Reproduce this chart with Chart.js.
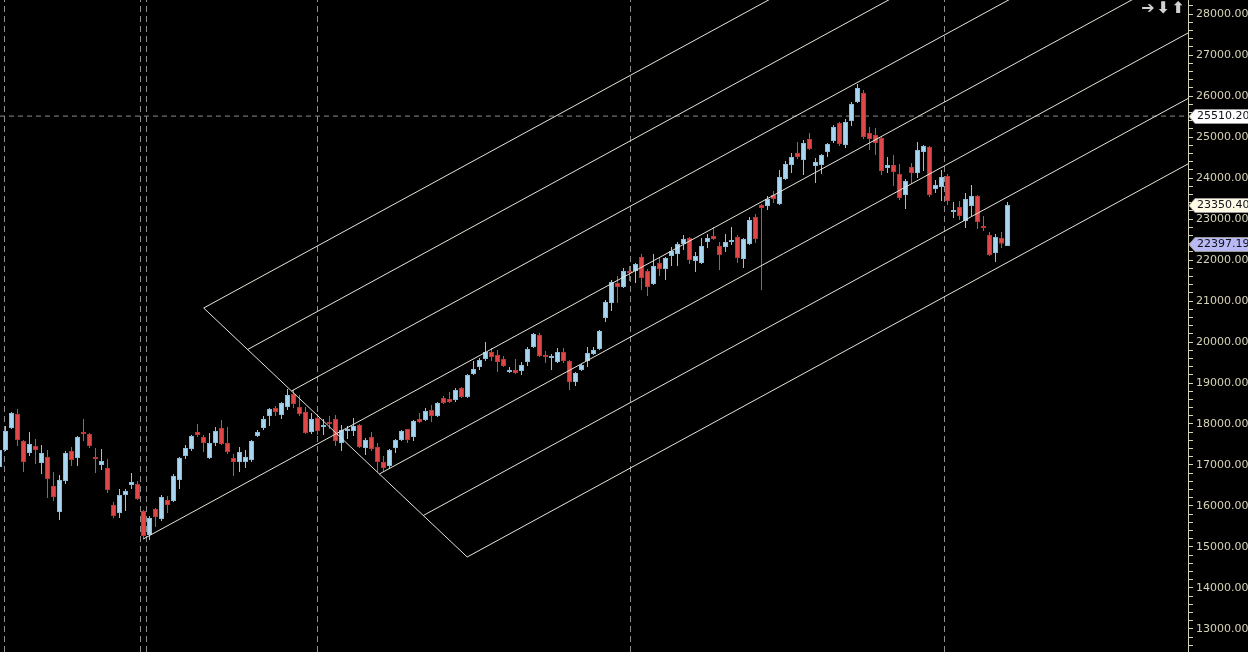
<!DOCTYPE html>
<html>
<head>
<meta charset="utf-8">
<script src="https://cdn.jsdelivr.net/npm/chart.js@4.4.1/dist/chart.umd.min.js"></script>
<style>
html, body { margin: 0; padding: 0; background: #000; overflow: hidden; }
#wrap { width: 1248px; height: 652px; }
</style>
</head>
<body>
<div id="wrap"><canvas id="candleChart" width="1248" height="652"></canvas></div>
<script>
// weekly candles, first one sits half off the left edge
var firstIndex = -1;
var opens = [16951,17366,17903,18244,17586,17293,17464,17049,17195,16488,15854,16610,17342,17171,17805,17756,17195,17000,16927,16025,
  15829,16268,16512,16537,15878,15293,15927,15683,16146,16122,16634,17220,17391,17805,17683,17171,17537,17903,17537,17171,
  17073,17073,17122,17708,17903,18195,18390,18220,18415,18732,18415,18293,17805,18146,17927,18049,18122,17537,17829,17829,
  17976,17415,17683,17439,17073,16976,17415,17610,17878,17683,18122,18098,18341,18195,18634,18610,18586,18878,18659,19220,
  19390,19585,19756,19683,19585,19268,19317,19293,19512,19878,20171,19683,19610,19512,19756,19537,19024,19317,19537,19707,
  19829,20586,20951,21439,21342,21732,21732,22073,21732,21415,21927,21781,22098,22146,22390,22537,21976,21927,22439,22586,
  22342,22317,22439,22561,22024,22390,23049,23342,23317,23586,23366,23976,24317,24610,24439,24951,24293,24317,24634,24903,
  25342,24805,25390,25854,26073,25098,25049,24976,24244,24317,24098,23586,24268,24122,24634,24756,23732,23781,24049,23171,
  23293,22951,23317,23561,22829,22610,22171,22537,22342];
var highs = [17488,17951,18293,18366,17610,17805,17634,17488,17366,16829,16756,17342,17439,17708,18122,17781,17415,17391,17147,16098,
  16415,16415,16805,16610,15903,15756,15951,16268,16244,16781,17195,17488,17732,17999,17732,17781,17927,18098,17927,17269,
  17439,17366,17610,17854,18195,18390,18439,18537,18854,18830,18708,18415,18268,18244,18122,18195,18220,17976,17951,18146,
  17999,17659,17805,17537,17220,17391,17634,17854,17878,18098,18268,18390,18464,18537,18683,18781,18878,18903,19220,19537,
  19610,19999,19854,19805,19659,19390,19585,19512,19878,20220,20220,19780,19707,19854,19854,19561,19268,19464,19878,19878,
  20292,21024,21512,21610,21805,21854,21927,22146,21781,22146,22073,22073,22317,22439,22610,22561,22195,22537,22634,22805,
  22439,22634,22805,22610,22537,23049,23122,23366,23561,23683,24195,24415,24610,24878,24927,25098,24488,24585,24854,25293,
  25366,25439,25854,26293,26146,25244,25220,25000,24512,24561,24342,23976,24366,24878,24805,24781,23951,24195,24098,23415,
  23439,23634,23829,23586,23073,22683,22634,22683,23415];
var lows = [16878,17342,17878,17464,16829,17220,17024,16781,16195,16122,15659,16537,16976,16976,17586,17415,16805,16878,16317,15707,
  15707,15878,16415,16146,15195,15171,15488,15634,15829,16098,16415,17147,17342,17683,17317,17147,17464,17488,17269,16732,
  16829,16927,17073,17683,17854,17951,18195,18122,18341,18390,18195,17756,17756,17732,17732,17878,17464,17342,17634,17708,
  17415,17244,17342,16829,16829,16903,17293,17586,17537,17586,18024,18073,18049,18171,18488,18513,18537,18634,18634,19195,
  19317,19537,19537,19268,19390,19244,19220,19195,19415,19854,19634,19488,19317,19488,19488,18830,18927,19293,19390,19683,
  19805,20488,20756,20951,21317,21488,21439,21268,21122,21390,21610,21512,21854,21854,22244,21902,21707,21902,22293,22488,
  21756,22195,22366,21927,21805,22366,22415,21268,23220,23390,23342,23951,24122,24463,24073,24683,23878,24098,24512,24854,
  24780,24732,25268,25829,24951,24683,24561,24073,24122,23805,23463,23244,23854,24000,24171,23537,23634,23439,23342,23024,
  22976,22781,23073,22756,22707,22098,21951,22293,22342];
var closes = [17366,17829,18268,17610,17073,17512,17366,17293,16659,16220,16634,17293,17122,17683,17756,17464,17147,17098,16390,15756,
  16268,16366,16585,16171,15268,15707,15732,16220,16025,16732,17171,17415,17708,17732,17537,17537,17829,17512,17317,17073,
  17317,17195,17586,17805,18122,18366,18293,18513,18708,18488,18244,17781,18122,17829,17951,17999,17586,17854,17854,17951,
  17439,17610,17391,17073,16927,17366,17610,17829,17610,18073,18049,18317,18195,18513,18513,18537,18830,18659,19195,19342,
  19561,19756,19634,19512,19415,19317,19244,19439,19829,20195,19659,19634,19659,19756,19537,19024,19244,19439,19732,19805,
  20268,20976,21464,21342,21732,21683,21903,21561,21342,21854,21781,22049,22220,22390,22512,22000,22098,22342,22537,22512,
  22122,22439,22488,22049,22512,22976,22512,23268,23488,23488,24024,24342,24512,24512,24854,24707,24390,24561,24829,25244,
  24829,25366,25805,26195,25000,24951,24854,24171,24317,24146,23512,23927,24122,24683,24781,23586,23829,24024,23439,23220,
  23073,23488,23561,22927,22781,22122,22561,22397.19,23350.40];

// y axis range and ticks
var yMin = 12439, yMax = 28341.5;
var minorStep = 200, majorStep = 1000;

// pitchfork lines [x0, y0, x1, y1] in candle index / price
var forkLines = [
  [22.95, 15195, 197.08, 29091],
  [33.03, 20829, 76.95, 14756],
  [33.03, 20829, 197.08, 33920],
  [40.35, 19817, 197.08, 32324],
  [47.67, 18805, 197.08, 30728],
  [62.31, 16781, 197.08, 27536],
  [69.63, 15768, 197.08, 25939],
  [76.95, 14756, 197.08, 24343]
];

// dashed markers
var vLines = [-0.167, 22.5, 23.5, 52, 104.167, 156.5];
var hLevel = 25510.20;

// price tags on the axis
var tagValues = [25510.20, 23350.40, 22397.19];
var tagLabels = ['25510.20', '23350.40', '22397.19'];
var tagColors = ['#ffffff', '#fffbe6', '#b9b9f4'];

var xMin = -5.5 / 6, xMax = xMin + 198;

var candleX = opens.map(function (o, i) { return i + firstIndex; });
var isUp = closes.map(function (c, i) { return c >= opens[i]; });

var datasets = [];

datasets.push({
  type: 'line',
  data: [{x: xMin, y: hLevel}, {x: xMax, y: hLevel}],
  borderColor: '#8e8e8e', borderWidth: 1, borderDash: [5, 4],
  pointRadius: 0, order: 6
});
vLines.forEach(function (v) {
  datasets.push({
    type: 'line',
    data: [{x: v, y: yMin}, {x: v, y: yMax}],
    borderColor: '#8e8e8e', borderWidth: 1, borderDash: [6, 4],
    pointRadius: 0, order: 6
  });
});

// wicks
datasets.push({
  type: 'bar',
  data: candleX.map(function (x, i) { return {x: x, y: [lows[i], highs[i]]}; }),
  backgroundColor: isUp.map(function (u) { return u ? '#8ec6e8' : '#e04444'; }),
  borderWidth: 0, barThickness: 1, grouped: false, inflateAmount: 0, order: 4
});
// bodies
datasets.push({
  type: 'bar',
  data: candleX.map(function (x, i) { return {x: x, y: [opens[i], closes[i]]}; }),
  backgroundColor: isUp.map(function (u) { return u ? '#a8d6f0' : '#e04848'; }),
  borderColor: isUp.map(function (u) { return u ? '#84bde0' : '#bf3636'; }),
  borderWidth: 1, borderSkipped: false, barThickness: 5, grouped: false,
  inflateAmount: 0, minBarLength: 2, order: 3
});

forkLines.forEach(function (l) {
  datasets.push({
    type: 'line',
    data: [{x: l[0], y: l[1]}, {x: l[2], y: l[3]}],
    borderColor: '#e4e4da', borderWidth: 1,
    pointRadius: 0, order: 1
  });
});

var axisColor = '#d6d2b6';

var extras = {
  id: 'extras',
  beforeDraw: function (chart) {
    var ctx = chart.ctx;
    ctx.save();
    ctx.fillStyle = '#000';
    ctx.fillRect(0, 0, chart.width, chart.height);
    ctx.restore();
  },
  afterDraw: function (chart) {
    var ctx = chart.ctx;
    var y = chart.scales.y;
    var left = chart.chartArea.right + 1;
    ctx.save();
    ctx.font = '11px "DejaVu Sans"';
    ctx.textBaseline = 'middle';
    for (var i = 0; i < tagValues.length; i++) {
      var py = Math.round(y.getPixelForValue(tagValues[i])) + 0.5;
      ctx.beginPath();
      ctx.moveTo(left, py);
      ctx.lineTo(left + 6, py - 7);
      ctx.lineTo(chart.width + 2, py - 7);
      ctx.lineTo(chart.width + 2, py + 7);
      ctx.lineTo(left + 6, py + 7);
      ctx.closePath();
      ctx.fillStyle = tagColors[i];
      ctx.fill();
      ctx.strokeStyle = '#9a9a9a';
      ctx.lineWidth = 1;
      ctx.stroke();
      ctx.fillStyle = '#101018';
      ctx.fillText(tagLabels[i], left + 8, py);
    }
    // toolbar arrows top right
    ctx.fillStyle = '#d2d2d2';
    ctx.font = 'bold 16px "DejaVu Sans"';
    ctx.textBaseline = 'middle';
    ctx.textAlign = 'center';
    ctx.fillText('\u2794', 1148, 9);
    ctx.fillText('\u2B07', 1163, 9);
    ctx.fillText('\u2B06', 1178, 9);
    ctx.restore();
  }
};

var chart = new Chart(document.getElementById('candleChart').getContext('2d'), {
  type: 'bar',
  data: { datasets: datasets },
  options: {
    responsive: false,
    animation: false,
    devicePixelRatio: 1,
    events: [],
    layout: { padding: 0 },
    plugins: { legend: { display: false }, tooltip: { enabled: false } },
    scales: {
      x: {
        type: 'linear', display: false, offset: false,
        min: xMin, max: xMax
      },
      y: {
        position: 'right',
        min: yMin, max: yMax,
        border: { display: true, color: axisColor, width: 1 },
        grid: { drawOnChartArea: false, drawTicks: true, tickLength: 5, tickColor: axisColor },
        ticks: {
          stepSize: minorStep, autoSkip: false, includeBounds: false,
          color: axisColor, padding: 3,
          font: { family: 'DejaVu Sans', size: 11 },
          callback: function (v) { return v % majorStep === 0 ? v.toFixed(2) : ''; }
        },
        afterFit: function (scale) {
          scale.width = 60;
          scale.paddingTop = 0;
          scale.paddingBottom = 0;
        }
      }
    }
  },
  plugins: [extras]
});
</script>
</body>
</html>
